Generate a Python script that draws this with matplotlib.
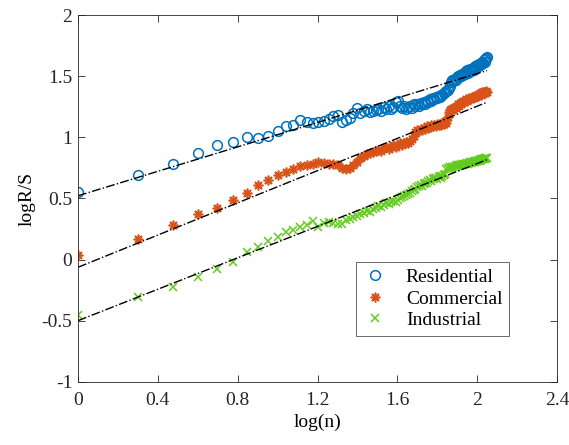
import numpy as np
import matplotlib
matplotlib.use("Agg")
import matplotlib.pyplot as plt

n = np.arange(1, 113)

residential = [
    0.55, 0.69, 0.785, 0.87, 0.935, 0.96, 1.005, 0.995, 1.015, 1.055, 1.09, 1.105, 1.145, 1.125, 1.12, 1.125,
    1.13, 1.15, 1.175, 1.18, 1.125, 1.14, 1.16, 1.2, 1.24, 1.2, 1.215, 1.235, 1.205, 1.215,
    1.22, 1.235, 1.215, 1.245, 1.23, 1.26, 1.235, 1.25, 1.29, 1.3, 1.26, 1.24, 1.255, 1.23, 1.25, 1.26, 1.24, 1.27, 1.255, 1.27,
    1.26, 1.28, 1.27, 1.29, 1.275, 1.3, 1.29, 1.31, 1.3, 1.32, 1.31, 1.33, 1.32, 1.34, 1.33, 1.35, 1.345, 1.36, 1.37, 1.38,
    1.39, 1.4, 1.42, 1.45, 1.47, 1.46, 1.48, 1.47, 1.49, 1.5,
    1.49, 1.51, 1.5, 1.52, 1.51, 1.53, 1.52, 1.54, 1.55, 1.53, 1.55, 1.56, 1.54, 1.56, 1.57, 1.55, 1.57, 1.58, 1.57, 1.59,
    1.58, 1.6, 1.59, 1.61, 1.6, 1.62, 1.61, 1.63, 1.62, 1.64, 1.65, 1.66,
]
commercial = [
    0.04, 0.165, 0.28, 0.375, 0.425, 0.485, 0.545, 0.607, 0.648, 0.69, 0.72, 0.745, 0.765, 0.775, 0.785, 0.795,
    0.79, 0.785, 0.78, 0.77, 0.75, 0.74, 0.75, 0.77, 0.8, 0.83, 0.845, 0.86, 0.875, 0.88,
    0.885, 0.9, 0.89, 0.91, 0.92, 0.905, 0.925, 0.935, 0.92, 0.94, 0.95, 0.935, 0.955, 0.96, 0.95, 0.97, 0.99, 1.01, 1.04, 1.06,
    1.05, 1.07, 1.06, 1.08, 1.07, 1.09, 1.08, 1.085, 1.1, 1.09, 1.1, 1.095, 1.11, 1.1, 1.11, 1.105, 1.12, 1.11, 1.13, 1.12, 1.17, 1.21,
    1.22, 1.23, 1.22, 1.24, 1.25, 1.24, 1.26, 1.27, 1.26, 1.28, 1.27, 1.29, 1.3, 1.29, 1.3, 1.31, 1.3, 1.31,
    1.32, 1.31, 1.32, 1.33, 1.32, 1.33, 1.34, 1.33, 1.34, 1.35, 1.34, 1.35, 1.36, 1.35, 1.36, 1.37, 1.36, 1.37, 1.36, 1.37, 1.38, 1.37,
]
industrial = [
    -0.455, -0.305, -0.227, -0.145, -0.077, -0.016, 0.06, 0.107, 0.156, 0.183, 0.224, 0.243, 0.265, 0.279, 0.314, 0.265,
    0.3, 0.31, 0.3, 0.295, 0.29, 0.32, 0.33, 0.345, 0.36, 0.375, 0.385, 0.4, 0.39, 0.41,
    0.42, 0.44, 0.43, 0.45, 0.46, 0.455, 0.47, 0.48, 0.47, 0.49, 0.5, 0.51, 0.52, 0.53, 0.54, 0.545, 0.56, 0.57, 0.58, 0.59,
    0.6, 0.61, 0.605, 0.62, 0.63, 0.625, 0.64, 0.65, 0.645, 0.66, 0.665, 0.67, 0.66, 0.675, 0.68, 0.67, 0.685, 0.69, 0.7,
    0.74, 0.75, 0.745, 0.755, 0.75, 0.76, 0.755, 0.765, 0.76, 0.77, 0.765, 0.77, 0.775, 0.77, 0.78, 0.775, 0.78, 0.785, 0.78,
    0.79, 0.785, 0.79, 0.795, 0.79, 0.8, 0.795, 0.8, 0.805, 0.8, 0.81, 0.805, 0.81, 0.815, 0.81, 0.82, 0.815, 0.82, 0.825,
    0.82, 0.83, 0.825, 0.83, 0.835,
]

# fitted lines as shown in the figure: (slope, intercept)
fit_res = (0.500, 0.522)
fit_com = (0.659, -0.063)
fit_ind = (0.643, -0.500)

plt.rcParams['font.family'] = ['Liberation Serif', 'DejaVu Serif']

x = np.log10(n)
fig = plt.figure(figsize=(5.69, 4.45), dpi=100)
ax = fig.add_axes([0.137, 0.142, 0.842, 0.824])

ax.plot(x, residential, 'o', mfc='none', mec='#0072BD', ms=7, mew=1.1, label='Residential')
ax.plot(x, commercial, ls='none', marker=(8, 2, 0), color='#D95319', ms=7, mew=1.2, label='Commercial')
ax.plot(x, industrial, 'x', color='#62CC1E', ms=6, mew=1.1, label='Industrial')

xf = np.array([0, x[-1]])
for p in (fit_res, fit_com, fit_ind):
    ax.plot(xf, np.polyval(p, xf), 'k-.', lw=1.0)

ax.set_xlim(0, 2.4)
ax.set_ylim(-1, 2)
ax.set_xticks([0, 0.4, 0.8, 1.2, 1.6, 2, 2.4])
ax.set_xticklabels(['0', '0.4', '0.8', '1.2', '1.6', '2', '2.4'])
ax.set_yticks([-1, -0.5, 0, 0.5, 1, 1.5, 2])
ax.set_yticklabels(['-1', '-0.5', '0', '0.5', '1', '1.5', '2'])
ax.tick_params(direction='in', top=True, right=True, labelsize=14, length=5, width=0.6, colors='#262626')
ax.tick_params(axis='x', pad=7)
ax.tick_params(axis='y', pad=4)
for s in ax.spines.values():
    s.set_linewidth(0.6)
    s.set_color('#262626')
ax.set_xlabel('log(n)', fontsize=14, labelpad=4)
ax.set_ylabel('logR/S', fontsize=14, labelpad=4)

leg = ax.legend(loc='lower right', bbox_to_anchor=(0.9, 0.125), fontsize=14, frameon=True,
                fancybox=False, edgecolor='#262626', borderaxespad=0, handlelength=1.2,
                handletextpad=1.0, labelspacing=0.2, borderpad=0.35)
leg.get_frame().set_linewidth(0.6)

fig.savefig('out.png', dpi=100)
